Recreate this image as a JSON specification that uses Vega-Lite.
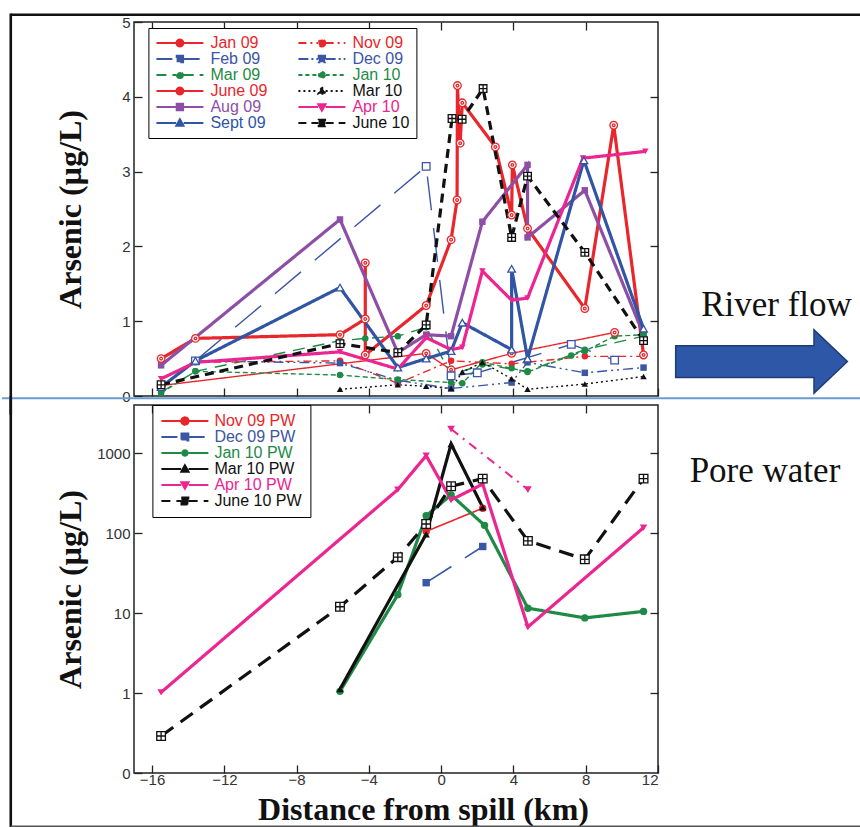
{
"$schema": "https://vega.github.io/schema/vega-lite/v6.json",
"background": "white",
"padding": {"left": 0, "top": 11, "right": 0, "bottom": 0},
"bounds": "flush",
"spacing": 9,
"datasets": {
"top": [
{"s":"Jan 09","i":1,"x":-15.5,"y":0.14},{"s":"Jan 09","i":2,"x":-0.83,"y":0.57},{"s":"Jan 09","i":3,"x":0.55,"y":0.35},{"s":"Jan 09","i":4,"x":3.9,"y":0.57},{"s":"Jan 09","i":5,"x":9.6,"y":0.85},
{"s":"Feb 09","i":1,"x":-13.6,"y":0.47},{"s":"Feb 09","i":2,"x":-0.83,"y":3.07},{"s":"Feb 09","i":3,"x":0.55,"y":0.27},{"s":"Feb 09","i":4,"x":2.0,"y":0.31},{"s":"Feb 09","i":5,"x":7.2,"y":0.69},{"s":"Feb 09","i":6,"x":9.6,"y":0.48},
{"s":"Mar 09","i":1,"x":-15.5,"y":0.05},{"s":"Mar 09","i":2,"x":-13.6,"y":0.33},{"s":"Mar 09","i":3,"x":-5.6,"y":0.74},{"s":"Mar 09","i":4,"x":-4.2,"y":0.77},{"s":"Mar 09","i":5,"x":-2.4,"y":0.8},{"s":"Mar 09","i":6,"x":-0.83,"y":0.92},{"s":"Mar 09","i":7,"x":0.55,"y":0.28},{"s":"Mar 09","i":8,"x":2.28,"y":0.42},{"s":"Mar 09","i":9,"x":4.78,"y":0.33},{"s":"Mar 09","i":10,"x":7.95,"y":0.62},{"s":"Mar 09","i":11,"x":11.2,"y":0.8},
{"s":"June 09","i":1,"x":-15.5,"y":0.5},{"s":"June 09","i":2,"x":-13.6,"y":0.77},{"s":"June 09","i":3,"x":-5.6,"y":0.82},{"s":"June 09","i":4,"x":-4.2,"y":1.03},{"s":"June 09","i":5,"x":-4.2,"y":1.78},{"s":"June 09","i":6,"x":-4.2,"y":0.55},{"s":"June 09","i":7,"x":-0.83,"y":1.21},{"s":"June 09","i":8,"x":0.55,"y":2.09},{"s":"June 09","i":9,"x":0.88,"y":2.62},{"s":"June 09","i":10,"x":0.9,"y":4.15},{"s":"June 09","i":11,"x":1.05,"y":3.38},{"s":"June 09","i":12,"x":1.17,"y":3.92},{"s":"June 09","i":13,"x":3.0,"y":3.33},{"s":"June 09","i":14,"x":3.9,"y":2.42},{"s":"June 09","i":15,"x":3.94,"y":3.09},{"s":"June 09","i":16,"x":4.78,"y":2.24},{"s":"June 09","i":17,"x":7.95,"y":1.17},{"s":"June 09","i":18,"x":9.55,"y":3.62},{"s":"June 09","i":19,"x":11.2,"y":0.55},
{"s":"Aug 09","i":1,"x":-15.5,"y":0.41},{"s":"Aug 09","i":2,"x":-5.6,"y":2.36},{"s":"Aug 09","i":3,"x":-2.4,"y":0.58},{"s":"Aug 09","i":4,"x":-0.83,"y":0.82},{"s":"Aug 09","i":5,"x":0.55,"y":0.8},{"s":"Aug 09","i":6,"x":2.28,"y":2.33},{"s":"Aug 09","i":7,"x":4.78,"y":3.09},{"s":"Aug 09","i":8,"x":4.78,"y":2.12},{"s":"Aug 09","i":9,"x":7.95,"y":2.75},{"s":"Aug 09","i":10,"x":11.2,"y":0.82},
{"s":"Sept 09","i":1,"x":-15.5,"y":0.12},{"s":"Sept 09","i":2,"x":-13.6,"y":0.47},{"s":"Sept 09","i":3,"x":-5.6,"y":1.45},{"s":"Sept 09","i":4,"x":-2.4,"y":0.38},{"s":"Sept 09","i":5,"x":-0.83,"y":0.5},{"s":"Sept 09","i":6,"x":0.55,"y":0.6},{"s":"Sept 09","i":7,"x":1.17,"y":0.98},{"s":"Sept 09","i":8,"x":3.9,"y":0.62},{"s":"Sept 09","i":9,"x":3.9,"y":1.7},{"s":"Sept 09","i":10,"x":4.78,"y":0.5},{"s":"Sept 09","i":11,"x":7.9,"y":3.15},{"s":"Sept 09","i":12,"x":11.2,"y":0.9},
{"s":"Nov 09","i":1,"x":-13.6,"y":0.45},{"s":"Nov 09","i":2,"x":-5.6,"y":0.47},{"s":"Nov 09","i":3,"x":-2.4,"y":0.17},{"s":"Nov 09","i":4,"x":0.55,"y":0.47},{"s":"Nov 09","i":5,"x":3.9,"y":0.43},{"s":"Nov 09","i":6,"x":7.95,"y":0.53},{"s":"Nov 09","i":7,"x":11.2,"y":0.53},
{"s":"Dec 09","i":1,"x":-13.6,"y":0.47},{"s":"Dec 09","i":2,"x":-5.6,"y":0.44},{"s":"Dec 09","i":3,"x":-2.4,"y":0.21},{"s":"Dec 09","i":4,"x":0.55,"y":0.1},{"s":"Dec 09","i":5,"x":3.9,"y":0.18},{"s":"Dec 09","i":6,"x":4.78,"y":0.45},{"s":"Dec 09","i":7,"x":7.95,"y":0.31},{"s":"Dec 09","i":8,"x":11.2,"y":0.38},
{"s":"Jan 10","i":1,"x":-15.5,"y":0.04},{"s":"Jan 10","i":2,"x":-13.6,"y":0.33},{"s":"Jan 10","i":3,"x":-5.6,"y":0.28},{"s":"Jan 10","i":4,"x":-2.4,"y":0.22},{"s":"Jan 10","i":5,"x":0.55,"y":0.18},{"s":"Jan 10","i":6,"x":1.17,"y":0.17},{"s":"Jan 10","i":7,"x":2.28,"y":0.45},{"s":"Jan 10","i":8,"x":3.9,"y":0.37},{"s":"Jan 10","i":9,"x":4.78,"y":0.32},{"s":"Jan 10","i":10,"x":7.2,"y":0.54},{"s":"Jan 10","i":11,"x":7.95,"y":0.6},{"s":"Jan 10","i":12,"x":9.6,"y":0.8},{"s":"Jan 10","i":13,"x":11.2,"y":0.82},
{"s":"Mar 10","i":1,"x":-5.6,"y":0.09},{"s":"Mar 10","i":2,"x":-2.4,"y":0.15},{"s":"Mar 10","i":3,"x":-0.83,"y":0.13},{"s":"Mar 10","i":4,"x":0.55,"y":0.1},{"s":"Mar 10","i":5,"x":1.17,"y":0.32},{"s":"Mar 10","i":6,"x":2.28,"y":0.45},{"s":"Mar 10","i":7,"x":3.9,"y":0.23},{"s":"Mar 10","i":8,"x":4.78,"y":0.09},{"s":"Mar 10","i":9,"x":7.95,"y":0.16},{"s":"Mar 10","i":10,"x":11.2,"y":0.26},
{"s":"Apr 10","i":1,"x":-15.5,"y":0.23},{"s":"Apr 10","i":2,"x":-13.6,"y":0.45},{"s":"Apr 10","i":3,"x":-5.6,"y":0.59},{"s":"Apr 10","i":4,"x":-2.4,"y":0.36},{"s":"Apr 10","i":5,"x":-0.83,"y":0.78},{"s":"Apr 10","i":6,"x":0.55,"y":0.62},{"s":"Apr 10","i":7,"x":1.17,"y":0.65},{"s":"Apr 10","i":8,"x":2.28,"y":1.67},{"s":"Apr 10","i":9,"x":3.9,"y":1.28},{"s":"Apr 10","i":10,"x":4.78,"y":1.31},{"s":"Apr 10","i":11,"x":7.85,"y":3.18},{"s":"Apr 10","i":12,"x":11.3,"y":3.27},
{"s":"June 10","i":1,"x":-15.5,"y":0.15},{"s":"June 10","i":2,"x":-5.6,"y":0.7},{"s":"June 10","i":3,"x":-2.4,"y":0.58},{"s":"June 10","i":4,"x":-0.83,"y":0.95},{"s":"June 10","i":5,"x":0.6,"y":3.71},{"s":"June 10","i":6,"x":1.16,"y":3.7},{"s":"June 10","i":7,"x":2.32,"y":4.11},{"s":"June 10","i":8,"x":3.9,"y":2.12},{"s":"June 10","i":9,"x":4.78,"y":2.94},{"s":"June 10","i":10,"x":7.95,"y":1.92},{"s":"June 10","i":11,"x":11.2,"y":0.74}
],
"pw": [
{"s":"Nov 09 PW","i":1,"x":-0.83,"v":105},{"s":"Nov 09 PW","i":2,"x":2.3,"v":205},
{"s":"Dec 09 PW","i":1,"x":-0.83,"v":24},{"s":"Dec 09 PW","i":2,"x":2.3,"v":68},
{"s":"Jan 10 PW","i":1,"x":-5.6,"v":1.05},{"s":"Jan 10 PW","i":2,"x":-2.4,"v":17},{"s":"Jan 10 PW","i":3,"x":-0.83,"v":165},{"s":"Jan 10 PW","i":4,"x":0.55,"v":300},{"s":"Jan 10 PW","i":5,"x":2.4,"v":125},{"s":"Jan 10 PW","i":6,"x":4.8,"v":11.5},{"s":"Jan 10 PW","i":7,"x":7.95,"v":8.7},{"s":"Jan 10 PW","i":8,"x":11.2,"v":10.5},
{"s":"Mar 10 PW","i":1,"x":-5.6,"v":1.12},{"s":"Mar 10 PW","i":2,"x":-0.83,"v":97},{"s":"Mar 10 PW","i":3,"x":0.55,"v":1300},{"s":"Mar 10 PW","i":4,"x":2.3,"v":210},
{"s":"Apr 10 PW","i":1,"x":-15.5,"v":1.02},{"s":"Apr 10 PW","i":2,"x":-2.4,"v":350},{"s":"Apr 10 PW","i":3,"x":-0.83,"v":930},{"s":"Apr 10 PW","i":4,"x":0.55,"v":260},{"s":"Apr 10 PW","i":5,"x":2.3,"v":410},{"s":"Apr 10 PW","i":6,"x":4.8,"v":6.7},{"s":"Apr 10 PW","i":7,"x":11.2,"v":117},
{"s":"June 10 PW","i":1,"x":-15.5,"v":0.29},{"s":"June 10 PW","i":2,"x":-5.6,"v":12},{"s":"June 10 PW","i":3,"x":-2.4,"v":50},{"s":"June 10 PW","i":4,"x":-0.83,"v":130},{"s":"June 10 PW","i":5,"x":0.55,"v":385},{"s":"June 10 PW","i":6,"x":2.3,"v":480},{"s":"June 10 PW","i":7,"x":4.8,"v":80},{"s":"June 10 PW","i":8,"x":7.95,"v":47},{"s":"June 10 PW","i":9,"x":11.2,"v":480},
{"s":"Apr 10 PW b","i":1,"x":0.55,"v":2000},{"s":"Apr 10 PW b","i":2,"x":4.8,"v":350}
]
},
"resolve": {"scale": {"x": "independent", "y": "independent", "color": "independent", "strokeDash": "independent", "shape": "independent"}, "legend": {"color": "independent"}},
"vconcat": [
{
"width": 524, "height": 374,
"data": {"name": "top"},
"resolve": {"axis": {"x": "independent", "y": "independent"}},
"layer": [
{"data": {"values": [{}]}, "mark": {"type": "rule", "color": "#111111", "strokeWidth": 2.6},
 "encoding": {"x": {"datum": -23.82, "type": "quantitative", "scale": {"domain": [-17, 12], "nice": false, "zero": false}, "axis": null}, "x2": {"datum": 24}, "y": {"datum": 5.096, "type": "quantitative", "scale": {"domain": [0, 5], "nice": false, "zero": false}, "axis": null}}},
{"data": {"values": [{}]}, "mark": {"type": "rule", "color": "#111111", "strokeWidth": 2.6},
 "encoding": {"x": {"datum": -23.82, "type": "quantitative", "scale": {"domain": [-17, 12], "nice": false, "zero": false}, "axis": null}, "y": {"datum": 5.114, "type": "quantitative", "scale": {"domain": [0, 5], "nice": false, "zero": false}, "axis": null}, "y2": {"datum": -0.25}}},
{"data": {"values": [{}]}, "mark": {"type": "rule", "color": "#6a9bd1", "strokeWidth": 2},
 "encoding": {"x": {"datum": -24.3, "type": "quantitative", "scale": {"domain": [-17, 12], "nice": false, "zero": false}, "axis": null}, "x2": {"datum": 24}, "y": {"datum": -0.03, "type": "quantitative", "scale": {"domain": [0, 5], "nice": false, "zero": false}, "axis": null}}},
{"transform": [{"filter": {"field": "s", "oneOf": ["Jan 09", "Nov 09", "Feb 09", "Dec 09", "Mar 09", "Jan 10", "Mar 10"]}}],
 "mark": {"type": "line", "strokeWidth": 1.4},
 "encoding": {
  "x": {"field": "x", "type": "quantitative", "scale": {"domain": [-17, 12], "nice": false, "zero": false}, "axis": {"orient": "bottom", "values": [-16, -12, -8, -4, 0, 4, 8, 12], "labels": false, "title": null}},
  "y": {"field": "y", "type": "quantitative", "scale": {"domain": [0, 5], "nice": false, "zero": false}, "axis": {"orient": "left", "values": [0, 1, 2, 3, 4, 5], "title": "Arsenic (µg/L)", "titleX": -47, "labelPadding": 12}},
  "color": {"field": "s", "type": "nominal",
   "scale": {"domain": ["Jan 09", "Feb 09", "Mar 09", "June 09", "Aug 09", "Sept 09", "Nov 09", "Dec 09", "Jan 10", "Mar 10", "Apr 10", "June 10"], "range": ["#e8262b", "#3b56a5", "#1e8a46", "#e8262b", "#8d4fa6", "#2f55a4", "#e8262b", "#3b56a5", "#1e8a46", "#111111", "#ec2590", "#111111"]},
   "legend": {"title": null, "orient": "none", "legendX": 14.4, "legendY": 6, "columns": 2, "columnPadding": 30, "rowPadding": -1, "clipHeight": 16, "padding": 7, "symbolSize": 2209, "symbolOffset": 0, "labelOffset": 6, "labelFont": "Liberation Sans", "labelFontSize": 16, "labelLimit": 200, "strokeColor": "#000000", "fillColor": "#ffffff", "symbolStrokeWidth": 1.8, "symbolOpacity": 1,
    "symbolType": {"expr": "'M -1 0 L -0.16 0 M 0.16 0 L 1 0 ' + ({'Jan 09':'M 0.15 0 A 0.15 0.15 0 1 1 -0.15 0 A 0.15 0.15 0 1 1 0.15 0 Z M 0.05 0 A 0.05 0.05 0 1 1 -0.05 0 A 0.05 0.05 0 1 1 0.05 0 Z','Nov 09':'M 0.15 0 A 0.15 0.15 0 1 1 -0.15 0 A 0.15 0.15 0 1 1 0.15 0 Z','Feb 09':'M -0.14 -0.14 L 0.14 -0.14 L 0.14 0.14 L -0.14 0.14 Z','Dec 09':'M -0.14 -0.14 L 0.14 -0.14 L 0.14 0.14 L -0.14 0.14 Z','Mar 09':'M 0.13 0 A 0.13 0.13 0 1 1 -0.13 0 A 0.13 0.13 0 1 1 0.13 0 Z','Jan 10':'M 0.13 0 A 0.13 0.13 0 1 1 -0.13 0 A 0.13 0.13 0 1 1 0.13 0 Z','June 09':'M 0.15 0 A 0.15 0.15 0 1 1 -0.15 0 A 0.15 0.15 0 1 1 0.15 0 Z M 0.05 0 A 0.05 0.05 0 1 1 -0.05 0 A 0.05 0.05 0 1 1 0.05 0 Z','Mar 10':'M 0 -0.17 L 0.16 0.12 L -0.16 0.12 Z','Aug 09':'M -0.14 -0.14 L 0.14 -0.14 L 0.14 0.14 L -0.14 0.14 Z','Apr 10':'M 0 0.17 L 0.16 -0.12 L -0.16 -0.12 Z','Sept 09':'M 0 -0.17 L 0.16 0.12 L -0.16 0.12 Z','June 10':'M -0.14 -0.14 L 0.14 -0.14 L 0.14 0.14 L -0.14 0.14 Z M 0 -0.14 L 0 0.14 M -0.14 0 L 0.14 0'})[datum.value]"},
    "symbolFillColor": {"expr": "({'Jan 09':'#ffffff','Nov 09':'#e8262b','Feb 09':'#ffffff','Dec 09':'#3b56a5','Mar 09':'#1e8a46','Jan 10':'#1e8a46','June 09':'#ffffff','Mar 10':'#111111','Aug 09':'#8d4fa6','Apr 10':'#ec2590','Sept 09':'#ffffff','June 10':'#ffffff'})[datum.value]"},
    "symbolStrokeColor": {"expr": "({'Jan 09':'#e8262b','Nov 09':'#e8262b','Feb 09':'#3b56a5','Dec 09':'#3b56a5','Mar 09':'#1e8a46','Jan 10':'#1e8a46','June 09':'#e8262b','Mar 10':'#111111','Aug 09':'#8d4fa6','Apr 10':'#ec2590','Sept 09':'#2f55a4','June 10':'#111111'})[datum.value]"},
    "symbolDash": {"expr": "({'Jan 09':[1,0],'Nov 09':[8,4,2,4],'Feb 09':[16,8],'Dec 09':[10,3,2,3,2,3],'Mar 09':[10,6],'Jan 10':[4,3],'June 09':[1,0],'Mar 10':[2,3],'Aug 09':[1,0],'Apr 10':[1,0],'Sept 09':[1,0],'June 10':[8,5]})[datum.value]"},
    "labelColor": {"expr": "({'Jan 09':'#e8262b','Nov 09':'#e8262b','Feb 09':'#3b56a5','Dec 09':'#3b56a5','Mar 09':'#1e8a46','Jan 10':'#1e8a46','June 09':'#e8262b','Mar 10':'#111111','Aug 09':'#8d4fa6','Apr 10':'#ec2590','Sept 09':'#2f55a4','June 10':'#111111'})[datum.value]"}
   }},
  "strokeDash": {"field": "s", "type": "nominal", "scale": {"domain": ["Sept 09", "Nov 09", "Mar 10", "Mar 09", "June 10", "June 09", "Jan 10", "Jan 09", "Feb 09", "Dec 09", "Aug 09", "Apr 10"], "range": [[1, 0], [8, 4, 2, 4], [2, 3], [12, 8], [9, 6], [1, 0], [5, 3], [1, 0], [34, 18], [10, 4, 2, 4, 2, 4], [1, 0], [1, 0]]}, "legend": null},
  "order": {"field": "i", "type": "quantitative"}
 }},
{"transform": [{"filter": {"field": "s", "oneOf": ["June 09", "Aug 09", "Apr 10", "Sept 09", "June 10"]}}],
 "mark": {"type": "line", "strokeWidth": 3.2},
 "encoding": {
  "x": {"field": "x", "type": "quantitative", "scale": {"domain": [-17, 12], "nice": false, "zero": false}, "axis": null},
  "y": {"field": "y", "type": "quantitative", "scale": {"domain": [0, 5], "nice": false, "zero": false}, "axis": null},
  "color": {"field": "s", "type": "nominal", "legend": null},
  "strokeDash": {"field": "s", "type": "nominal", "legend": null},
  "order": {"field": "i", "type": "quantitative"}
 }},
{"transform": [{"filter": {"field": "s", "oneOf": ["Nov 09", "Dec 09", "Mar 09", "Jan 10", "Mar 10", "Aug 09", "Apr 10"]}}],
 "mark": {"type": "point", "filled": true, "size": 42, "opacity": 1},
 "encoding": {
  "x": {"field": "x", "type": "quantitative", "scale": {"domain": [-17, 12], "nice": false, "zero": false}, "axis": null},
  "y": {"field": "y", "type": "quantitative", "scale": {"domain": [0, 5], "nice": false, "zero": false}, "axis": null},
  "color": {"field": "s", "type": "nominal", "legend": null},
  "shape": {"field": "s", "type": "nominal", "scale": {"domain": ["Apr 10", "Aug 09", "Dec 09", "Feb 09", "Jan 09", "Jan 10", "June 09", "June 10", "Mar 09", "Mar 10", "Nov 09", "Sept 09"], "range": ["triangle-down", "square", "square", "square", "M 1 0 A 1 1 0 1 1 -1 0 A 1 1 0 1 1 1 0 Z M 0.35 0 A 0.35 0.35 0 1 1 -0.35 0 A 0.35 0.35 0 1 1 0.35 0 Z", "circle", "M 1 0 A 1 1 0 1 1 -1 0 A 1 1 0 1 1 1 0 Z M 0.35 0 A 0.35 0.35 0 1 1 -0.35 0 A 0.35 0.35 0 1 1 0.35 0 Z", "M -1 -1 L 1 -1 L 1 1 L -1 1 Z M 0 -1 L 0 1 M -1 0 L 1 0", "circle", "triangle-up", "circle", "triangle-up"]}, "legend": null}
 }},
{"transform": [{"filter": {"field": "s", "oneOf": ["Jan 09", "Feb 09", "June 09", "Sept 09", "June 10"]}}],
 "mark": {"type": "point", "filled": false, "fill": "#ffffff", "strokeWidth": 1.3, "size": 58, "opacity": 1},
 "encoding": {
  "x": {"field": "x", "type": "quantitative", "scale": {"domain": [-17, 12], "nice": false, "zero": false}, "axis": null},
  "y": {"field": "y", "type": "quantitative", "scale": {"domain": [0, 5], "nice": false, "zero": false}, "axis": null},
  "color": {"field": "s", "type": "nominal", "legend": null},
  "shape": {"field": "s", "type": "nominal", "legend": null}
 }},
{"mark": {"type": "point", "opacity": 0},
 "encoding": {
  "x": {"field": "x", "type": "quantitative", "scale": {"domain": [-17, 12], "nice": false, "zero": false}, "axis": {"orient": "top", "values": [-16, -12, -8, -4, 0, 4, 8], "labels": false, "title": null}},
  "y": {"field": "y", "type": "quantitative", "scale": {"domain": [0, 5], "nice": false, "zero": false}, "axis": {"orient": "right", "values": [1, 2, 3, 4], "labels": false, "title": null}}
 }},
{"data": {"values": [{}]},
 "mark": {"type": "point", "shape": "M -1 -0.185 L 0.611 -0.185 L 0.611 -0.369 L 1 0 L 0.611 0.369 L 0.611 0.185 L -1 0.185 Z", "size": 29481, "filled": true, "fill": "#2f57a8", "stroke": "#1d3c78", "strokeWidth": 1.5, "opacity": 1},
 "encoding": {"x": {"datum": 17.73, "type": "quantitative", "scale": {"domain": [-17, 12], "nice": false, "zero": false}, "axis": null}, "y": {"datum": 0.461, "type": "quantitative", "scale": {"domain": [0, 5], "nice": false, "zero": false}, "axis": null}}},
{"data": {"values": [{}]},
 "mark": {"type": "text", "text": "River flow", "font": "Liberation Serif", "fontSize": 35, "align": "center", "baseline": "alphabetic", "color": "#111111"},
 "encoding": {"x": {"datum": 18.56, "type": "quantitative", "scale": {"domain": [-17, 12], "nice": false, "zero": false}, "axis": null}, "y": {"datum": 1.063, "type": "quantitative", "scale": {"domain": [0, 5], "nice": false, "zero": false}, "axis": null}}}
]
},
{
"width": 524, "height": 368,
"data": {"name": "pw"},
"resolve": {"axis": {"x": "independent", "y": "independent"}},
"layer": [
{"data": {"values": [{}]}, "mark": {"type": "rule", "color": "#111111", "strokeWidth": 2.6},
 "encoding": {"x": {"datum": -23.82, "type": "quantitative", "scale": {"domain": [-17, 12], "nice": false, "zero": false}, "axis": null}, "y": {"datum": 5200, "type": "quantitative", "scale": {"type": "log", "domain": [0.1, 4000], "nice": false}, "axis": null}, "y2": {"datum": 0.0187}}},
{"data": {"values": [{}]}, "mark": {"type": "rule", "color": "#555555", "strokeWidth": 1.5},
 "encoding": {"x": {"datum": -23.82, "type": "quantitative", "scale": {"domain": [-17, 12], "nice": false, "zero": false}, "axis": null}, "x2": {"datum": 24}, "y": {"datum": 0.0216, "type": "quantitative", "scale": {"type": "log", "domain": [0.1, 4000], "nice": false}, "axis": null}}},
{"transform": [{"filter": {"field": "s", "oneOf": ["Nov 09 PW", "Dec 09 PW"]}}],
 "mark": {"type": "line", "strokeWidth": 1.6},
 "encoding": {
  "x": {"field": "x", "type": "quantitative", "scale": {"domain": [-17, 12], "nice": false, "zero": false}, "axis": {"orient": "bottom", "values": [-16, -12, -8, -4, 0, 4, 8, 12], "title": "Distance from spill (km)", "titleX": 289, "titleY": 21, "titleAlign": "center", "titleBaseline": "top", "labelPadding": 7}},
  "y": {"field": "v", "type": "quantitative", "scale": {"type": "log", "domain": [0.1, 4000], "nice": false}, "axis": {"orient": "left", "values": [0.1, 1, 10, 100, 1000], "labelExpr": "datum.value < 0.5 ? '0' : format(datum.value, 'd')", "title": "Arsenic (µg/L)", "titleX": -47, "labelPadding": 12}},
  "color": {"field": "s", "type": "nominal",
   "scale": {"domain": ["Nov 09 PW", "Dec 09 PW", "Jan 10 PW", "Mar 10 PW", "Apr 10 PW", "June 10 PW"], "range": ["#e8262b", "#3b56a5", "#1e8a46", "#111111", "#ec2590", "#111111"]},
   "legend": {"title": null, "orient": "none", "legendX": 18.4, "legendY": 0, "columns": 1, "rowPadding": -1, "clipHeight": 16, "padding": 8, "symbolSize": 2209, "symbolOffset": 0, "labelOffset": 5, "labelFont": "Liberation Sans", "labelFontSize": 16, "labelLimit": 200, "strokeColor": "#000000", "fillColor": "#ffffff", "symbolStrokeWidth": 1.8, "symbolOpacity": 1,
    "symbolType": {"expr": "'M -1 0 L -0.16 0 M 0.16 0 L 1 0 ' + ({'Nov 09 PW':'M 0.16 0 A 0.16 0.16 0 1 1 -0.16 0 A 0.16 0.16 0 1 1 0.16 0 Z','Dec 09 PW':'M -0.15 -0.15 L 0.15 -0.15 L 0.15 0.15 L -0.15 0.15 Z','Jan 10 PW':'M 0.12 0 A 0.12 0.12 0 1 1 -0.12 0 A 0.12 0.12 0 1 1 0.12 0 Z','Mar 10 PW':'M 0 -0.17 L 0.16 0.12 L -0.16 0.12 Z','Apr 10 PW':'M 0 0.17 L 0.16 -0.12 L -0.16 -0.12 Z','June 10 PW':'M -0.15 -0.15 L 0.15 -0.15 L 0.15 0.15 L -0.15 0.15 Z M 0 -0.15 L 0 0.15 M -0.15 0 L 0.15 0'})[datum.value]"},
    "symbolFillColor": {"expr": "({'Nov 09 PW':'#e8262b','Dec 09 PW':'#3b56a5','Jan 10 PW':'#1e8a46','Mar 10 PW':'#111111','Apr 10 PW':'#ec2590','June 10 PW':'#ffffff'})[datum.value]"},
    "symbolStrokeColor": {"expr": "({'Nov 09 PW':'#e8262b','Dec 09 PW':'#3b56a5','Jan 10 PW':'#1e8a46','Mar 10 PW':'#111111','Apr 10 PW':'#ec2590','June 10 PW':'#111111'})[datum.value]"},
    "symbolDash": {"expr": "({'Nov 09 PW':[1,0],'Dec 09 PW':[16,6],'Jan 10 PW':[1,0],'Mar 10 PW':[1,0],'Apr 10 PW':[1,0],'June 10 PW':[9,6]})[datum.value]"},
    "labelColor": {"expr": "({'Nov 09 PW':'#e8262b','Dec 09 PW':'#3b56a5','Jan 10 PW':'#1e8a46','Mar 10 PW':'#111111','Apr 10 PW':'#ec2590','June 10 PW':'#111111'})[datum.value]"}
   }},
  "strokeDash": {"field": "s", "type": "nominal", "scale": {"domain": ["Nov 09 PW", "Mar 10 PW", "June 10 PW", "Jan 10 PW", "Dec 09 PW", "Apr 10 PW"], "range": [[1, 0], [1, 0], [15, 9], [1, 0], [30, 16], [1, 0]]}, "legend": null},
  "order": {"field": "i", "type": "quantitative"}
 }},
{"transform": [{"filter": {"field": "s", "oneOf": ["Jan 10 PW", "Mar 10 PW", "Apr 10 PW", "June 10 PW"]}}],
 "mark": {"type": "line", "strokeWidth": 3.2},
 "encoding": {
  "x": {"field": "x", "type": "quantitative", "scale": {"domain": [-17, 12], "nice": false, "zero": false}, "axis": null},
  "y": {"field": "v", "type": "quantitative", "scale": {"type": "log", "domain": [0.1, 4000], "nice": false}, "axis": null},
  "color": {"field": "s", "type": "nominal", "legend": null},
  "strokeDash": {"field": "s", "type": "nominal", "legend": null},
  "order": {"field": "i", "type": "quantitative"}
 }},
{"transform": [{"filter": {"field": "s", "equal": "Apr 10 PW b"}}],
 "mark": {"type": "line", "strokeWidth": 2, "color": "#ec2590", "strokeDash": [9, 6, 2, 6]},
 "encoding": {
  "x": {"field": "x", "type": "quantitative", "scale": {"domain": [-17, 12], "nice": false, "zero": false}, "axis": null},
  "y": {"field": "v", "type": "quantitative", "scale": {"type": "log", "domain": [0.1, 4000], "nice": false}, "axis": null},
  "order": {"field": "i", "type": "quantitative"}
 }},
{"transform": [{"filter": {"field": "s", "equal": "Apr 10 PW b"}}],
 "mark": {"type": "point", "filled": true, "shape": "triangle-down", "size": 60, "color": "#ec2590", "opacity": 1},
 "encoding": {
  "x": {"field": "x", "type": "quantitative", "scale": {"domain": [-17, 12], "nice": false, "zero": false}, "axis": null},
  "y": {"field": "v", "type": "quantitative", "scale": {"type": "log", "domain": [0.1, 4000], "nice": false}, "axis": null}
 }},
{"transform": [{"filter": {"field": "s", "oneOf": ["Nov 09 PW", "Dec 09 PW", "Jan 10 PW", "Mar 10 PW", "Apr 10 PW"]}}],
 "mark": {"type": "point", "filled": true, "size": 55, "opacity": 1},
 "encoding": {
  "x": {"field": "x", "type": "quantitative", "scale": {"domain": [-17, 12], "nice": false, "zero": false}, "axis": null},
  "y": {"field": "v", "type": "quantitative", "scale": {"type": "log", "domain": [0.1, 4000], "nice": false}, "axis": null},
  "color": {"field": "s", "type": "nominal", "legend": null},
  "shape": {"field": "s", "type": "nominal", "scale": {"domain": ["Apr 10 PW", "Dec 09 PW", "Jan 10 PW", "June 10 PW", "Mar 10 PW", "Nov 09 PW"], "range": ["triangle-down", "square", "circle", "M -1 -1 L 1 -1 L 1 1 L -1 1 Z M 0 -1 L 0 1 M -1 0 L 1 0", "triangle-up", "circle"]}, "legend": null}
 }},
{"transform": [{"filter": {"field": "s", "oneOf": ["June 10 PW"]}}],
 "mark": {"type": "point", "filled": false, "fill": "#ffffff", "strokeWidth": 1.3, "size": 75, "opacity": 1},
 "encoding": {
  "x": {"field": "x", "type": "quantitative", "scale": {"domain": [-17, 12], "nice": false, "zero": false}, "axis": null},
  "y": {"field": "v", "type": "quantitative", "scale": {"type": "log", "domain": [0.1, 4000], "nice": false}, "axis": null},
  "color": {"field": "s", "type": "nominal", "legend": null},
  "shape": {"field": "s", "type": "nominal", "legend": null}
 }},
{"mark": {"type": "point", "opacity": 0},
 "encoding": {
  "x": {"field": "x", "type": "quantitative", "scale": {"domain": [-17, 12], "nice": false, "zero": false}, "axis": {"orient": "top", "values": [-16, -12, -8, -4, 0, 4, 8], "labels": false, "title": null}},
  "y": {"field": "v", "type": "quantitative", "scale": {"type": "log", "domain": [0.1, 4000], "nice": false}, "axis": {"orient": "right", "values": [1, 10, 100, 1000], "labels": false, "title": null}}
 }},
{"data": {"values": [{}]},
 "mark": {"type": "text", "text": "Pore water", "font": "Liberation Serif", "fontSize": 35, "align": "center", "baseline": "alphabetic", "color": "#111111"},
 "encoding": {"x": {"datum": 17.92, "type": "quantitative", "scale": {"domain": [-17, 12], "nice": false, "zero": false}, "axis": null}, "y": {"datum": 441, "type": "quantitative", "scale": {"type": "log", "domain": [0.1, 4000], "nice": false}, "axis": null}}}
]
}
],
"config": {
 "view": {"stroke": "#222222", "strokeWidth": 1.5},
 "axis": {"domain": false, "grid": false, "tickColor": "#222222", "tickWidth": 1.3, "tickSize": -8, "labelFont": "Liberation Sans", "labelFontSize": 15, "labelColor": "#333333", "titleFont": "Liberation Serif", "titleFontSize": 32, "titleFontWeight": "bold", "titleColor": "#111111"}
}
}
